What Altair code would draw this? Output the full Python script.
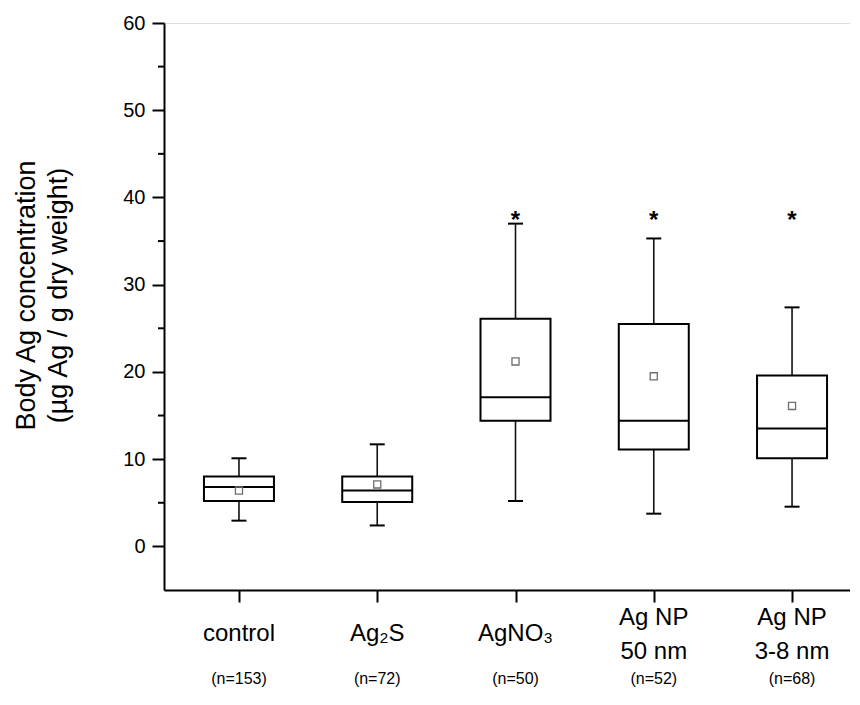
import altair as alt
import pandas as pd

# ---- data ----
category_lines = [["control"], ["Ag₂S"], ["AgNO₃"], ["Ag NP", "50 nm"], ["Ag NP", "3-8 nm"]]
n_labels = ["(n=153)", "(n=72)", "(n=50)", "(n=52)", "(n=68)"]
whisker_low = [2.95, 2.4, 5.2, 3.75, 4.55]
q1 = [5.2, 5.1, 14.4, 11.1, 10.1]
median = [6.8, 6.4, 17.1, 14.4, 13.5]
q3 = [8.0, 8.0, 26.1, 25.5, 19.6]
whisker_high = [10.1, 11.7, 37.0, 35.3, 27.4]
mean = [6.4, 7.1, 21.2, 19.5, 16.1]
significant = [False, False, True, True, True]
star_level = 38.1
y_major = [0, 10, 20, 30, 40, 50, 60]
y_minor = [5, 15, 25, 35, 45, 55]

idx = list(range(len(category_lines)))
df = pd.DataFrame({
    "i": idx, "lo": whisker_low, "q1": q1, "med": median, "q3": q3,
    "hi": whisker_high, "mean": mean, "n": n_labels, "sig": significant,
    "lines": category_lines, "nlines": [len(c) for c in category_lines],
})
df_star = df[df["sig"]].assign(star=star_level, txt="*")
df_minor = pd.DataFrame({"v": y_minor})

FONT = "Liberation Sans"
xs = alt.Scale(domain=[-0.506, 4.383], nice=False, zero=False)
ys = alt.Scale(domain=[-5, 60], nice=False, zero=False)

x_axis = alt.Axis(values=idx, labels=False, tickSize=12, tickWidth=2,
                  tickColor="black", domainColor="black", domainWidth=2,
                  grid=False, title=None)
y_axis = alt.Axis(values=y_major, tickSize=12, tickWidth=2, tickColor="black",
                  domainColor="black", domainWidth=2, labelFontSize=20,
                  labelPadding=7, labelColor="black", labelFont=FONT, grid=False,
                  title=["Body Ag concentration", "(µg Ag / g dry weight)"],
                  titleFont=FONT, titleFontSize=27, titleFontWeight="normal",
                  titleColor="black", titleX=-151, titleY=272, titleAngle=270,
                  titleBaseline="top", titleAlign="center", titleLineHeight=32)

base = alt.Chart(df)
X = alt.X("i:Q", scale=xs, axis=x_axis)

whisker = base.mark_rule(color="#111", strokeWidth=1.6).encode(
    x=X, y=alt.Y("lo:Q", scale=ys, axis=y_axis), y2="hi:Q")
box = base.mark_bar(size=70, fill="white", stroke="black", strokeWidth=2).encode(
    x="i:Q", y=alt.Y("q1:Q", scale=ys), y2="q3:Q")
med = base.mark_tick(orient="horizontal", size=70, thickness=2, color="black",
                     opacity=1).encode(
    x="i:Q", y=alt.Y("med:Q", scale=ys))
cap_lo = base.mark_tick(orient="horizontal", size=15, thickness=2, color="black",
                        opacity=1).encode(
    x="i:Q", y=alt.Y("lo:Q", scale=ys))
cap_hi = base.mark_tick(orient="horizontal", size=15, thickness=2, color="black",
                        opacity=1).encode(
    x="i:Q", y=alt.Y("hi:Q", scale=ys))
mean_pt = base.mark_point(shape="square", filled=False, size=50, color="#6e6e6e",
                          strokeWidth=1.3, opacity=1).encode(
    x="i:Q", y=alt.Y("mean:Q", scale=ys))
stars = alt.Chart(df_star).mark_text(fontSize=24, font=FONT, fontWeight="bold",
                                     baseline="alphabetic", dy=14, color="black").encode(
    x="i:Q", y=alt.Y("star:Q", scale=ys), text="txt:N")

cat_one = base.transform_filter("datum.nlines == 1").mark_text(
    fontSize=24, font=FONT, baseline="middle", color="black").encode(
    x="i:Q", y=alt.value(611), text="lines:N")
cat_two = base.transform_filter("datum.nlines == 2").mark_text(
    fontSize=24, font=FONT, baseline="middle", lineHeight=34, color="black").encode(
    x="i:Q", y=alt.value(595), text="lines:N")
nlab = base.mark_text(fontSize=16, font=FONT, baseline="middle", color="black").encode(
    x="i:Q", y=alt.value(656), text="n:N")
minor = alt.Chart(df_minor).mark_rule(color="black", strokeWidth=2).encode(
    x=alt.value(-6), x2=alt.value(0), y=alt.Y("v:Q", scale=ys))

chart = alt.layer(whisker, box, med, cap_lo, cap_hi, mean_pt, stars,
                  cat_one, cat_two, nlab, minor).properties(
    width=686, height=567,
    padding={"left": 4, "right": 0, "top": 5, "bottom": 5},
).configure_view(stroke="transparent").configure(background="white")

chart.save("out.html", embed_options={"renderer": "svg", "actions": False})
